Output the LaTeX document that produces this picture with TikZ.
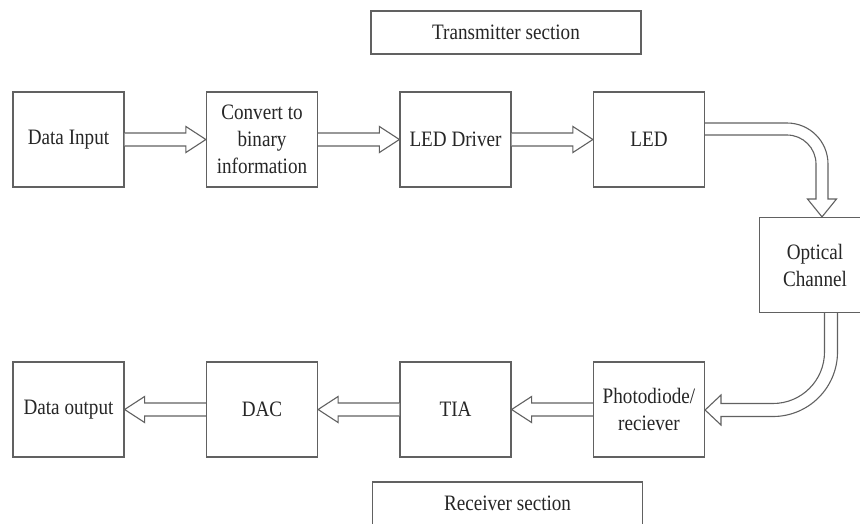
\documentclass[tikz,border=0pt]{standalone}
\usepackage{fontspec}
\setmainfont{Liberation Serif}[FakeStretch=0.87]
\usetikzlibrary{calc}
\tikzset{
  blk/.style={draw=black!62, line width=1.2pt, minimum width=111pt, minimum height=95pt,
    inner sep=0pt, align=center, font=\fontsize{22}{27}\selectfont, text=black!85},
  lbl/.style={blk, minimum width=270pt, minimum height=43pt},
  harr/.style={draw=black!62, line width=1.1pt, line join=miter, fill=white},
}
% hollow arrow pointing right, from #1.east to #2.west
\newcommand{\arrRight}[2]{%
  \draw[harr] ($(#1.east)+(0,-6.5)$) -- ($(#2.west)+(-20,-6.5)$) -- ($(#2.west)+(-20,-13)$)
    -- (#2.west) -- ($(#2.west)+(-20,13)$) -- ($(#2.west)+(-20,6.5)$) -- ($(#1.east)+(0,6.5)$);}
% hollow arrow pointing left, from #1.west to #2.east
\newcommand{\arrLeft}[2]{%
  \draw[harr] ($(#1.west)+(0,-6.5)$) -- ($(#2.east)+(20,-6.5)$) -- ($(#2.east)+(20,-13)$)
    -- (#2.east) -- ($(#2.east)+(20,13)$) -- ($(#2.east)+(20,6.5)$) -- ($(#1.west)+(0,6.5)$);}
\begin{document}
\begin{tikzpicture}[x=1pt,y=-1pt]
\clip (0,0) rectangle (860,523);
\fill[white] (0,0) rectangle (860,523);

% section labels
\node[lbl] (tx) at (506,32.5) {Transmitter section};
\node[lbl] (rx) at (507.5,503.5) {Receiver section};

% transmitter row
\node[blk] (din)  at (68.5,139.5) {Data Input};
\node[blk] (conv) at (262,139.5) {Convert to\\binary\\information};
\node[blk] (drv)  at (455.5,139.5) {LED Driver};
\node[blk] (led)  at (649,139.5) {LED};

% channel
\node[blk] (opt)  at (815,265) {Optical\\Channel};

% receiver row
\node[blk] (pd)   at (649,409.5) {Photodiode/\\reciever};
\node[blk] (tia)  at (455.5,409.5) {TIA};
\node[blk] (dac)  at (262,409.5) {DAC};
\node[blk] (dout) at (68.5,409.5) {Data output};

% straight arrows
\arrRight{din}{conv}
\arrRight{conv}{drv}
\arrRight{drv}{led}
\arrLeft{pd}{tia}
\arrLeft{tia}{dac}
\arrLeft{dac}{dout}

% curved arrow LED -> Optical Channel
\draw[harr] ($(led.east)+(0,-16.5)$) -- (787,123) arc[start angle=-90, end angle=0, radius=41]
  -- (828,199) -- (836.5,199) -- ($(opt.north)+(7,0)$) -- (807.5,199) -- (816,199)
  -- (816,164) arc[start angle=0, end angle=-90, radius=29] -- ($(led.east)+(0,-4.5)$);

% curved arrow Optical Channel -> Photodiode
\draw[harr] ($(opt.south)+(9.5,0)$) -- (824.5,352) arc[start angle=0, end angle=90, radius=51.5]
  -- (721,403.5) -- (721,395) -- ($(pd.east)+(0,0.5)$) -- (721,425) -- (721,416.5)
  -- (773,416.5) arc[start angle=90, end angle=0, radius=64.5] -- ($(opt.south)+(22.5,0)$);
\end{tikzpicture}
\end{document}
